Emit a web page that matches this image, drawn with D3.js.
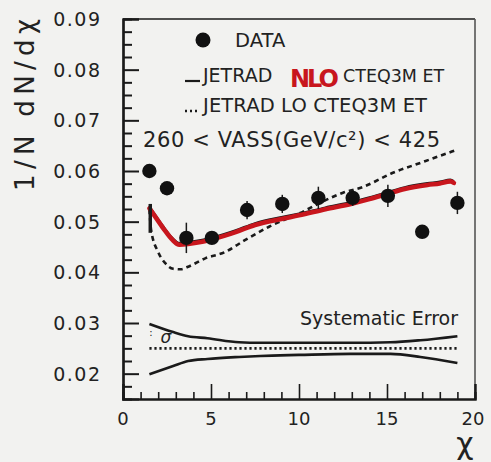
<!DOCTYPE html>
<html>
<head>
<meta charset="utf-8">
<script src="https://cdn.jsdelivr.net/npm/d3@7"></script>
<style>
  html, body { margin: 0; padding: 0; background: #f2f2f0; }
  svg { display: block; }
  text { font-family: "DejaVu Sans", sans-serif; fill: #222; }
</style>
</head>
<body>
<div id="chart"></div>
<script>
// ---------- data ----------
const dataX = [1.5, 2.5, 3.6, 5.05, 7.05, 9.05, 11.1, 13.05, 15.05, 17.0, 19.0];
const dataY = [0.0600, 0.0566, 0.0468, 0.0468, 0.0523, 0.0535, 0.0547, 0.0547, 0.0551, 0.0480, 0.0537];
const dataErr = [0.0008, 0.0008, 0.0030, 0.0012, 0.0018, 0.0018, 0.0022, 0.0016, 0.0022, 0.0010, 0.0022];

const nloX = [1.5, 1.8, 2.3, 2.8, 3.2, 3.8, 4.5, 5.2, 6.4, 7.5, 9.0, 10.0, 11.5, 13.0, 14.0, 15.0, 16.0, 17.3, 18.0, 18.6, 18.8];
const nloY = [0.0530, 0.0515, 0.0490, 0.0468, 0.0458, 0.0460, 0.0464, 0.0470, 0.0483, 0.0497, 0.0509, 0.0516, 0.0528, 0.0539, 0.0548, 0.0558, 0.0568, 0.0576, 0.0579, 0.0583, 0.0580];

const loX = [1.5, 1.6, 2.0, 2.4, 2.85, 3.3, 3.7, 4.7, 5.8, 6.9, 8.3, 10.0, 11.8, 12.5, 13.6, 15.3, 16.9, 18.5, 18.9];
const loY = [0.0525, 0.0483, 0.0440, 0.0418, 0.0407, 0.0406, 0.0411, 0.0428, 0.0440, 0.0463, 0.0490, 0.0516, 0.0547, 0.0557, 0.0568, 0.0596, 0.0616, 0.0636, 0.0641];

const sysX = [1.5, 2.85, 3.7, 4.8, 6.6, 7.8, 10.0, 12.9, 15.2, 16.9, 19.0];
const sysUpper = [0.0298, 0.0282, 0.0274, 0.0270, 0.0262, 0.0261, 0.0261, 0.0261, 0.0262, 0.0266, 0.0274];
const sysLower = [0.0199, 0.0215, 0.0225, 0.0229, 0.0233, 0.0235, 0.0237, 0.0239, 0.0239, 0.0233, 0.0221];
const sysCentral = [0.025, 0.025];
const sysCentralX = [1.5, 19.0];

const xMajorTicks = [0, 5, 10, 15, 20];
const xTickLabels = ["0", "5", "10", "15", "20"];
const yMajorTicks = [0.02, 0.03, 0.04, 0.05, 0.06, 0.07, 0.08, 0.09];
const yTickLabels = ["0.02", "0.03", "0.04", "0.05", "0.06", "0.07", "0.08", "0.09"];

const legendLabels = ["DATA", "JETRAD NLO CTEQ3M ET", "JETRAD LO CTEQ3M ET"];
const nloParts = ["JETRAD", "NLO", "CTEQ3M ET"];
const rangeLabel = "260 < VASS(GeV/c²) < 425";
const sysLabel = "Systematic Error";

// ---------- layout ----------
const W = 491, H = 462;
const svg = d3.select("#chart").append("svg").attr("width", W).attr("height", H);
svg.append("rect").attr("width", W).attr("height", H).attr("fill", "#f2f2f0");

const x = d3.scaleLinear().domain([0, 20]).range([123, 475]);
const y = d3.scaleLinear().domain([0.015, 0.09]).range([399, 19]);

const ink = "#1a1a1a";
const red = "#c8161d";

// frame
svg.append("line").attr("x1", x(0)).attr("x2", x(20)).attr("y1", y(0.09)).attr("y2", y(0.09))
  .attr("stroke", ink).attr("stroke-width", 1.6);
svg.append("line").attr("x1", x(20)).attr("x2", x(20)).attr("y1", y(0.09)).attr("y2", y(0.015))
  .attr("stroke", "#555").attr("stroke-width", 1.6);

// axes via d3
const yMinor = d3.range(0.0175, 0.0901, 0.0025).filter(v => !yMajorTicks.some(m => Math.abs(m - v) < 1e-6));
const yAxisMinor = d3.axisRight(y).tickValues(yMinor).tickSize(9).tickFormat("");
const yAxisMajor = d3.axisRight(y).tickValues(yMajorTicks).tickSize(16).tickFormat("");
[yAxisMinor, yAxisMajor].forEach(a => {
  const g = svg.append("g").attr("transform", `translate(${x(0)},0)`).call(a);
  g.selectAll("path").attr("stroke", ink).attr("stroke-width", 2.2);
  g.selectAll("line").attr("stroke", ink).attr("stroke-width", 2);
});
const xMinor = d3.range(1, 20).filter(v => v % 5 !== 0);
const xAxisMinor = d3.axisTop(x).tickValues(xMinor).tickSize(7).tickFormat("");
const xAxisMajor = d3.axisTop(x).tickValues(xMajorTicks).tickSize(15).tickFormat("");
[xAxisMinor, xAxisMajor].forEach(a => {
  const g = svg.append("g").attr("transform", `translate(0,${y(0.015)})`).call(a);
  g.selectAll("path").attr("stroke", ink).attr("stroke-width", 2.2);
  g.selectAll("line").attr("stroke", ink).attr("stroke-width", 1.6);
});

// tick labels
svg.append("g").selectAll("text").data(yMajorTicks).join("text")
  .attr("x", 101.5).attr("y", d => y(d) + 7)
  .attr("text-anchor", "end").attr("font-size", 19).attr("letter-spacing", 1.5)
  .text((d, i) => yTickLabels[i]);
svg.append("g").selectAll("text").data(xMajorTicks).join("text")
  .attr("x", d => x(d) - (d === 20 ? 2 : 0)).attr("y", 425)
  .attr("text-anchor", "middle").attr("font-size", 18)
  .text((d, i) => xTickLabels[i]);

// axis titles
svg.append("text").attr("transform", "translate(34,105) rotate(-90)")
  .attr("text-anchor", "middle").attr("font-size", 26)
  .attr("textLength", 172).attr("lengthAdjust", "spacing")
  .text("1/N dN/dχ");
svg.append("text").attr("x", 465).attr("y", 454).attr("text-anchor", "middle")
  .attr("font-size", 30).text("χ");

// systematic error band
const line = d3.line().x(d => x(d[0])).y(d => y(d[1])).curve(d3.curveMonotoneX);
svg.append("path").datum(sysX.map((v, i) => [v, sysUpper[i]])).attr("d", line)
  .attr("fill", "none").attr("stroke", ink).attr("stroke-width", 2.6);
svg.append("path").datum(sysX.map((v, i) => [v, sysLower[i]])).attr("d", line)
  .attr("fill", "none").attr("stroke", ink).attr("stroke-width", 2.6);
svg.append("path").datum(sysCentralX.map((v, i) => [v, sysCentral[i]])).attr("d", line)
  .attr("fill", "none").attr("stroke", ink).attr("stroke-width", 2.6).attr("stroke-dasharray", "2.2,2.8");
svg.append("text").attr("x", 166).attr("y", 343).attr("text-anchor", "middle")
  .attr("font-size", 17).attr("font-style", "italic").text("σ");
svg.append("text").attr("x", 151).attr("y", 336).attr("text-anchor", "middle")
  .attr("font-size", 10).text(":");
svg.append("text").attr("x", 300).attr("y", 325).attr("font-size", 19).text(sysLabel);

// LO dashed curve
svg.append("path").datum(loX.map((v, i) => [v, loY[i]])).attr("d", line)
  .attr("fill", "none").attr("stroke", ink).attr("stroke-width", 2.6).attr("stroke-dasharray", "5,4");

// NLO curve: original black line + red overdrawn
const nloData = nloX.map((v, i) => [v, nloY[i]]);
svg.append("path").datum(nloData).attr("d", line)
  .attr("fill", "none").attr("stroke", ink).attr("stroke-width", 2.2);
svg.append("path").datum(nloData).attr("d", line).attr("transform", "translate(0,1.8)")
  .attr("fill", "none").attr("stroke", red).attr("stroke-width", 4.6)
  .attr("stroke-linecap", "round").attr("stroke-linejoin", "round");
// start smudge of the curves at low chi
svg.append("line").attr("x1", x(1.55)).attr("x2", x(1.55)).attr("y1", y(0.0535)).attr("y2", y(0.0478))
  .attr("stroke", ink).attr("stroke-width", 3.5);

// data points with error bars
const pts = dataX.map((v, i) => ({ x: v, y: dataY[i], e: dataErr[i] }));
svg.append("g").selectAll("line").data(pts).join("line")
  .attr("x1", d => x(d.x)).attr("x2", d => x(d.x))
  .attr("y1", d => y(d.y + d.e)).attr("y2", d => y(d.y - d.e))
  .attr("stroke", ink).attr("stroke-width", 1.5);
svg.append("g").selectAll("circle").data(pts).join("circle")
  .attr("cx", d => x(d.x)).attr("cy", d => y(d.y)).attr("r", 7.2).attr("fill", "#111");

// legend
svg.append("circle").attr("cx", 203).attr("cy", 40).attr("r", 7.5).attr("fill", "#111");
svg.append("text").attr("x", 235).attr("y", 47).attr("font-size", 19.5).text(legendLabels[0]);
svg.append("line").attr("x1", 185).attr("x2", 200).attr("y1", 81).attr("y2", 81)
  .attr("stroke", ink).attr("stroke-width", 2.2);
const t2 = svg.append("text").attr("y", 82).attr("font-size", 19);
t2.append("tspan").attr("x", 203).text(nloParts[0]);
t2.append("tspan").attr("x", 290).attr("dy", 5).attr("font-size", 24).attr("font-weight", "bold")
  .style("fill", red).attr("letter-spacing", -3).text(nloParts[1]);
t2.append("tspan").attr("x", 343).attr("dy", -5).attr("font-size", 17.5).text(nloParts[2]);
svg.append("line").attr("x1", 185).attr("x2", 200).attr("y1", 111).attr("y2", 111)
  .attr("stroke", ink).attr("stroke-width", 2.5).attr("stroke-dasharray", "2,3");
svg.append("text").attr("x", 203).attr("y", 112).attr("font-size", 19.5)
  .attr("textLength", 224).attr("lengthAdjust", "spacing").text(legendLabels[2]);
svg.append("text").attr("x", 143).attr("y", 147).attr("font-size", 21)
  .attr("textLength", 297).attr("lengthAdjust", "spacing").text(rangeLabel);
</script>
</body>
</html>
